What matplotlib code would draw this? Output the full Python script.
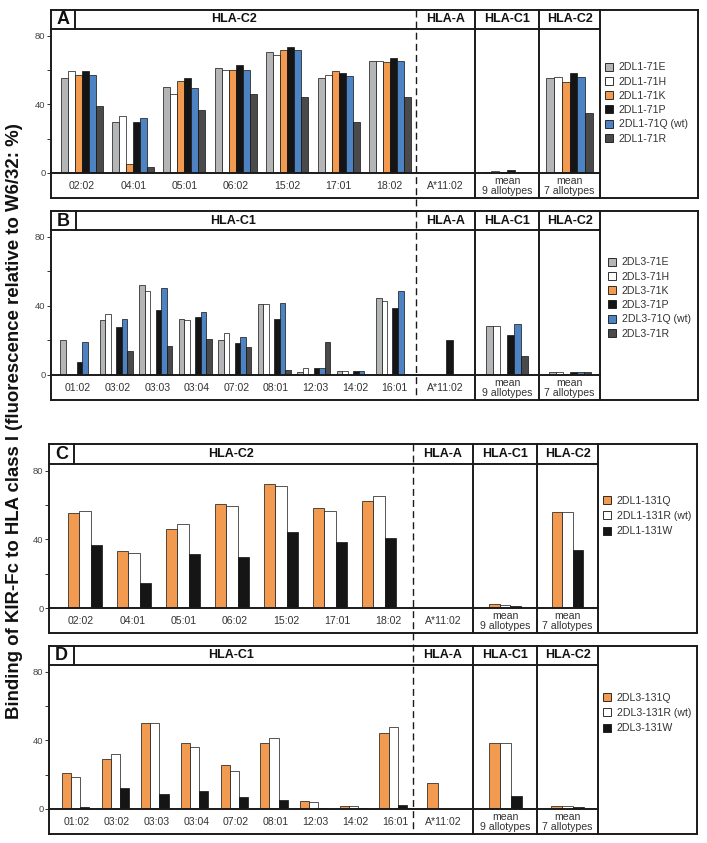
import matplotlib
matplotlib.use('Agg')
import matplotlib.pyplot as plt
from matplotlib.patches import Patch
import numpy as np

plt.rcParams['font.family'] = ['Liberation Sans', 'DejaVu Sans']

# ---------------- data ----------------
a_categories = ['02:02', '04:01', '05:01', '06:02', '15:02', '17:01', '18:02',
                'A*11:02', 'mean\n9 allotypes', 'mean\n7 allotypes']
a_series = ['2DL1-71E', '2DL1-71H', '2DL1-71K', '2DL1-71P', '2DL1-71Q (wt)', '2DL1-71R']
a_71E = [55.5, 29.5, 50.1, 61.3, 70.5, 55.5, 65.5, 0, 0.3, 55.5]
a_71H = [59.5, 33.3, 46.2, 59.9, 68.8, 57.4, 65.5, 0, 1.3, 55.9]
a_71K = [57.4, 5.2, 53.8, 60.1, 71.5, 59.5, 64.9, 0, 0.3, 53.2]
a_71P = [59.3, 29.5, 55.7, 63.2, 73.4, 58.6, 67.0, 0, 1.8, 58.4]
a_71Q = [57.4, 32.0, 49.3, 59.9, 71.5, 56.6, 65.5, 0, 0.6, 55.9]
a_71R = [38.9, 3.7, 37.0, 46.2, 44.3, 29.7, 44.5, 0, 0.3, 35.1]

b_categories = ['01:02', '03:02', '03:03', '03:04', '07:02', '08:01', '12:03', '14:02', '16:01',
                'A*11:02', 'mean\n9 allotypes', 'mean\n7 allotypes']
b_series = ['2DL3-71E', '2DL3-71H', '2DL3-71K', '2DL3-71P', '2DL3-71Q (wt)', '2DL3-71R']
b_71E = [20.2, 31.8, 52.3, 32.6, 20.3, 41.1, 1.9, 2.3, 44.6, 0, 28.1, 1.8]
b_71H = [0, 35.5, 48.6, 31.8, 24.2, 41.1, 4.3, 2.3, 43.0, 0, 28.5, 1.8]
b_71K = [0, 0, 0, 0, 0, 0, 0, 0, 0, 0, 0.3, 0]
b_71P = [7.4, 27.9, 37.4, 33.5, 18.4, 32.6, 3.9, 2.3, 39.1, 20.3, 23.3, 1.6]
b_71Q = [19.4, 32.6, 50.4, 36.4, 22.3, 41.9, 3.9, 2.3, 48.4, 0, 29.5, 1.6]
b_71R = [0, 14.0, 16.7, 20.9, 16.5, 2.9, 19.4, 0, 0.3, 0, 10.9, 1.6]

c_categories = a_categories
c_series = ['2DL1-131Q', '2DL1-131R (wt)', '2DL1-131W']
c_131Q = [55.5, 33.1, 46.2, 60.9, 72.1, 58.2, 62.6, 0, 2.1, 56.1]
c_131R = [56.8, 31.8, 49.1, 59.5, 71.1, 56.3, 65.1, 0, 1.7, 56.1]
c_131W = [37.0, 14.8, 31.4, 29.5, 44.3, 38.7, 40.7, 0, 1.3, 34.1]

d_categories = b_categories
d_series = ['2DL3-131Q', '2DL3-131R (wt)', '2DL3-131W']
d_131Q = [20.9, 29.3, 50.0, 38.6, 25.6, 38.6, 4.9, 2.0, 44.3, 15.4, 38.6, 2.0]
d_131R = [18.9, 32.2, 50.0, 35.9, 22.0, 41.4, 4.3, 2.0, 48.0, 0, 38.6, 1.6]
d_131W = [1.4, 12.5, 8.8, 10.7, 7.0, 5.1, 0.6, 0.6, 2.1, 0, 7.6, 1.2]

group_headers_ac = 'HLA-C2'
group_headers_bd = 'HLA-C1'
side_headers = ['HLA-A', 'HLA-C1', 'HLA-C2']
ylabel = 'Binding of KIR-Fc to HLA class I (fluorescence relative to W6/32: %)'

c_gray = '#b4b5b7'
c_white = '#ffffff'
c_orange = '#f19a50'
c_black = '#151515'
c_blue = '#4d82c3'
c_dgray = '#4a4a4a'
colors6 = [c_gray, c_white, c_orange, c_black, c_blue, c_dgray]
colors3 = [c_orange, c_white, c_black]

# ---------------- layout ----------------
W, H = 707, 843
fig = plt.figure(figsize=(W / 100, H / 100), dpi=100)
fig.patch.set_facecolor('white')

def add_ax(x0, y0, x1, y1, **kw):
    return fig.add_axes([x0 / W, 1 - y1 / H, (x1 - x0) / W, (y1 - y0) / H], **kw)

YMAX = 84
LW_OUT = 1.4
LW_IN = 1.0
TXT = '#333333'

panels = [
    dict(letter='A', header=group_headers_ac, cats=a_categories, series=a_series,
         values=[a_71E, a_71H, a_71K, a_71P, a_71Q, a_71R], colors=colors6,
         left=51, lab=75, dashed=416, c1=475, c2=539, leg=600, right=698,
         top=10, head=29, base=173, bottom=198,
         first=81.5, spacing=51.4, bar=7.0, sidebar=7.8, lab_first=82, lab_sp=51.3,
         leg_x=605, leg_y=103, leg_sp=0.40),
    dict(letter='B', header=group_headers_bd, cats=b_categories, series=b_series,
         values=[b_71E, b_71H, b_71K, b_71P, b_71Q, b_71R], colors=colors6,
         left=51, lab=76, dashed=416, c1=475, c2=539, leg=600, right=698,
         top=211, head=230, base=375, bottom=400,
         first=76.5, spacing=39.5, bar=5.5, sidebar=7.0, lab_first=78, lab_sp=39.6,
         leg_x=608, leg_y=298, leg_sp=0.40),
    dict(letter='C', header=group_headers_ac, cats=c_categories, series=c_series,
         values=[c_131Q, c_131R, c_131W], colors=colors3,
         left=49, lab=74, dashed=413, c1=473, c2=537, leg=598, right=697,
         top=444, head=464, base=608, bottom=633,
         first=85, spacing=49.0, bar=11.1, sidebar=10.5, lab_first=81, lab_sp=51.3,
         leg_x=603, leg_y=516, leg_sp=0.52),
    dict(letter='D', header=group_headers_bd, cats=d_categories, series=d_series,
         values=[d_131Q, d_131R, d_131W], colors=colors3,
         left=49, lab=74, dashed=413, c1=473, c2=537, leg=598, right=697,
         top=646, head=665, base=809, bottom=834,
         first=75.5, spacing=39.7, bar=9.1, sidebar=11.0, lab_first=77, lab_sp=39.75,
         leg_x=603, leg_y=713, leg_sp=0.52),
]

overlay = add_ax(0, 0, W, H, zorder=10)
overlay.set_xlim(0, W)
overlay.set_ylim(H, 0)
overlay.axis('off')
overlay.patch.set_alpha(0)

def hline(y, x0, x1, lw=LW_IN, **kw):
    overlay.plot([x0, x1], [y, y], color='#1a1a1a', lw=lw, solid_capstyle='projecting', **kw)

def vline(x, y0, y1, lw=LW_IN, **kw):
    overlay.plot([x, x], [y0, y1], color='#1a1a1a', lw=lw, solid_capstyle='projecting', **kw)

for p in panels:
    cats = p['cats']
    n_main = len(cats) - 3
    ns = len(p['series'])

    # main section
    ax = add_ax(p['left'], p['head'], p['dashed'], p['base'])
    sp = p['spacing']
    x_lo = (p['left'] - p['first']) / sp
    x_hi = (p['dashed'] - p['first']) / sp
    ax.set_xlim(x_lo, x_hi)
    ax.set_ylim(0, YMAX)
    bw = p['bar'] / sp
    idx = np.arange(n_main)
    for j, (vals, col) in enumerate(zip(p['values'], p['colors'])):
        off = (j - (ns - 1) / 2) * bw
        ax.bar(idx + off, vals[:n_main], width=bw, color=col,
               edgecolor='#111111', linewidth=0.5)
    for s in ax.spines.values():
        s.set_visible(False)
    ax.set_xticks([])
    ax.set_yticks([0, 40, 80])
    ax.set_yticks([20, 60], minor=True)
    ax.tick_params(axis='y', which='both', direction='out', length=3, width=0.7,
                   color='#333333', labelsize=6.8, labelcolor='#444444', pad=1)
    ax.patch.set_alpha(0)

    # side sections
    bounds = [p['dashed'], p['c1'], p['c2'], p['leg']]
    for k in range(3):
        x0, x1 = bounds[k], bounds[k + 1]
        w = x1 - x0
        sax = add_ax(x0, p['head'], x1, p['base'])
        sax.set_xlim(-w / 2, w / 2)
        sax.set_ylim(0, YMAX)
        for j, (vals, col) in enumerate(zip(p['values'], p['colors'])):
            off = (j - (ns - 1) / 2) * p['sidebar']
            sax.bar([off], [vals[n_main + k]], width=p['sidebar'], color=col,
                    edgecolor='#111111', linewidth=0.5)
        sax.axis('off')

    # frame lines
    L, R, T, B = p['left'], p['right'], p['top'], p['bottom']
    hline(T, L, R, LW_OUT)
    hline(B, L, R, LW_OUT)
    vline(L, T, B, LW_OUT)
    vline(R, T, B, LW_OUT)
    hline(p['head'], L, p['leg'], LW_OUT)
    hline(p['base'], L, p['leg'], LW_OUT)
    vline(p['lab'], T, p['head'], LW_OUT)
    vline(p['c1'], T, B, LW_OUT)
    vline(p['c2'], T, B, LW_OUT)
    vline(p['leg'], T, B, LW_OUT)

    # texts
    hy = (T + p['head']) / 2
    overlay.text((L + p['lab']) / 2, hy + 0.5, p['letter'], ha='center', va='center',
                 fontsize=13, fontweight='bold', color='#111111')
    overlay.text((L + p['dashed']) / 2, hy, p['header'], ha='center', va='center',
                 fontsize=9, fontweight='bold', color='#111111')
    for k in range(3):
        overlay.text((bounds[k] + bounds[k + 1]) / 2, hy, side_headers[k], ha='center',
                     va='center', fontsize=9, fontweight='bold', color='#111111')
    ly = (p['base'] + B) / 2 + 0.5
    for i in range(n_main):
        overlay.text(p['lab_first'] + i * p['lab_sp'], ly, cats[i], ha='center', va='center',
                     fontsize=7.6, color=TXT)
    for k in range(3):
        overlay.text((bounds[k] + bounds[k + 1]) / 2, ly, cats[n_main + k], ha='center',
                     va='center', fontsize=7.6, color=TXT, linespacing=1.0)

    # legend
    handles = [Patch(facecolor=c, edgecolor='#111111', linewidth=0.6) for c in p['colors']]
    fig.legend(handles, p['series'], loc='center left',
               bbox_to_anchor=(p['leg_x'] / W, 1 - p['leg_y'] / H),
               frameon=False, fontsize=7.6, handlelength=0.8, handleheight=0.8,
               handletextpad=0.5, labelspacing=p['leg_sp'], borderpad=0, borderaxespad=0,
               labelcolor=TXT)

# dashed separators spanning panel pairs
vline(panels[0]['dashed'], panels[0]['top'], panels[1]['bottom'], LW_IN, linestyle=(0, (5, 3)))
vline(panels[2]['dashed'], panels[2]['top'], panels[3]['bottom'], LW_IN, linestyle=(0, (5, 3)))

fig.text(15 / W, 1 - 421 / H, ylabel, rotation=90, ha='center', va='center',
         fontsize=13.4, fontweight='bold', color='#111111')

fig.savefig('out.png', dpi=100, facecolor='white')
